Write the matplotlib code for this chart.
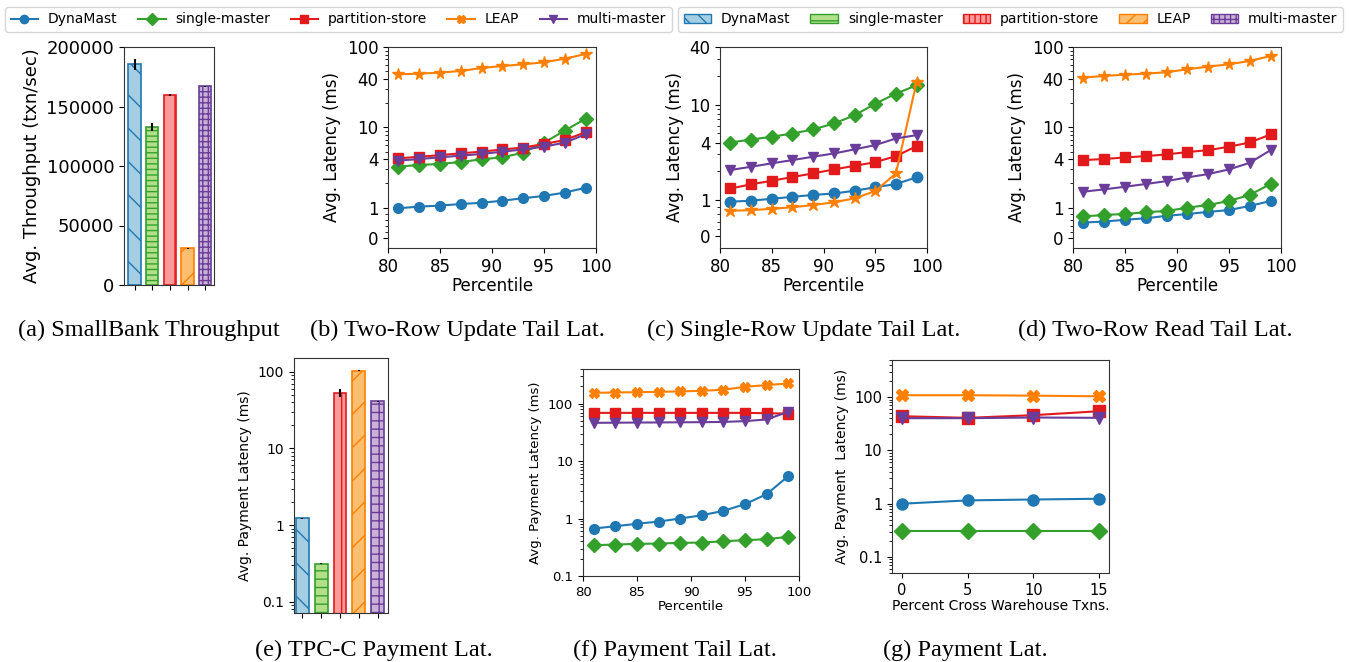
import numpy as np
import matplotlib.pyplot as plt
from matplotlib.patches import Patch
from matplotlib.lines import Line2D
from matplotlib.ticker import FixedLocator, NullFormatter

systems = ['DynaMast', 'single-master', 'partition-store', 'LEAP', 'multi-master']
line_colors = ['#1f78b4', '#33a02c', '#e31a1c', '#ff7f00', '#6a3d9a']
face_colors = ['#a6cee3', '#b2df8a', '#fb9a99', '#fdbf6f', '#cab2d6']
markers_top = ['o', 'D', 's', '*', 'v']
markers_bot = ['o', 'D', 's', 'X', 'v']

# (a) SmallBank throughput
tput = [185400, 132700, 159900, 30900, 166900]
tput_err = [4800, 3500, 800, 300, 500]

# tail latency percentiles
pct = [81, 83, 85, 87, 89, 91, 93, 95, 97, 99]

# (b) two-row update tail latency (ms)
two_upd = {
    'DynaMast':        [0.98, 1.03, 1.06, 1.11, 1.15, 1.22, 1.31, 1.40, 1.54, 1.77],
    'single-master':   [3.24, 3.4, 3.5, 3.7, 4.0, 4.23, 4.84, 6.44, 9.1, 12.8],
    'partition-store': [4.11, 4.3, 4.5, 4.75, 4.98, 5.3, 5.6, 6.2, 6.95, 8.7],
    'LEAP':            [45.7, 46.6, 48, 50.3, 54.8, 58, 60.9, 64.4, 71.6, 81.8],
    'multi-master':    [3.85, 4.03, 4.23, 4.44, 4.66, 4.98, 5.3, 5.75, 6.44, 8.2],
}

# (c) single-row update tail latency (ms)
one_upd = {
    'DynaMast':        [0.955, 0.98, 1.03, 1.08, 1.13, 1.17, 1.25, 1.36, 1.47, 1.73],
    'single-master':   [4.0, 4.3, 4.59, 4.97, 5.48, 6.33, 7.7, 10.2, 13.0, 15.9],
    'partition-store': [1.32, 1.46, 1.59, 1.74, 1.90, 2.09, 2.28, 2.49, 2.88, 3.67],
    'LEAP':            [0.70, 0.72, 0.755, 0.80, 0.86, 0.936, 1.04, 1.24, 1.9, 17.3],
    'multi-master':    [2.06, 2.23, 2.42, 2.62, 2.84, 3.07, 3.39, 3.76, 4.41, 4.78],
}

# (d) two-row read tail latency (ms)
two_read = {
    'DynaMast':        [0.51, 0.54, 0.6, 0.65, 0.73, 0.79, 0.86, 0.92, 1.05, 1.21],
    'single-master':   [0.71, 0.76, 0.79, 0.85, 0.89, 1.0, 1.08, 1.21, 1.44, 1.97],
    'partition-store': [3.91, 4.03, 4.22, 4.38, 4.6, 4.92, 5.2, 5.73, 6.48, 8.15],
    'LEAP':            [41.6, 43.6, 45.3, 46.6, 48.5, 52.8, 57, 60.9, 67, 77.3],
    'multi-master':    [1.58, 1.69, 1.82, 1.97, 2.14, 2.38, 2.62, 2.99, 3.62, 5.2],
}

# (e) TPC-C payment latency (ms)
pay_lat = [1.22, 0.313, 53, 104, 41.2]
pay_err = [0.02, 0.005, 6, 1, 0.5]

# (f) payment tail latency (ms)
pay_tail = {
    'DynaMast':        [0.67, 0.735, 0.81, 0.886, 1.0, 1.14, 1.36, 1.78, 2.65, 5.46],
    'single-master':   [0.343, 0.353, 0.362, 0.367, 0.377, 0.382, 0.403, 0.42, 0.437, 0.48],
    'partition-store': [69, 69, 69, 69, 69, 69, 69, 69, 68, 67],
    'LEAP':            [154, 156, 158, 160, 163, 167, 174, 196, 210, 224],
    'multi-master':    [46.3, 46.5, 46.8, 47, 47.3, 47.5, 48, 49.5, 53, 72],
}

# (g) payment latency vs cross-warehouse %
cross = [0, 5, 10, 15]
pay_cross = {
    'DynaMast':        [1.0, 1.155, 1.2, 1.24],
    'single-master':   [0.303, 0.303, 0.303, 0.303],
    'partition-store': [44, 41, 46, 54.6],
    'LEAP':            [109, 109, 107, 104],
    'multi-master':    [40.4, 40.4, 41.6, 41],
}

W, H = 1349, 662
fig = plt.figure(figsize=(W / 100, H / 100), dpi=100)


def box(l, r, t, b):
    return [l / W, 1 - b / H, (r - l) / W, (b - t) / H]


def style(ax):
    for s in ax.spines.values():
        s.set_color('#333333')


hatch_a = ['\\', '---', '|', '/', '+++']
hatch_e = ['\\', '--', '|', '/', '++']

# (a)
ax = fig.add_axes(box(124, 214, 47, 285))
x = np.arange(len(systems))
for i in range(len(systems)):
    ax.bar(x[i], tput[i], 0.7, yerr=tput_err[i], color=face_colors[i],
           edgecolor=line_colors[i], hatch=hatch_a[i], linewidth=1.2,
           error_kw=dict(ecolor='black', elinewidth=1.5))
ax.set_xlim(-0.6, 4.5)
ax.set_ylim(0, 200000)
ax.set_xticks(x)
ax.set_xticklabels([])
ax.set_yticks([0, 50000, 100000, 150000, 200000])
ax.tick_params(labelsize=13)
ax.set_ylabel('Avg. Throughput (txn/sec)', fontsize=13)
style(ax)


def tail_panel(pos, data, top, ms):
    ax = fig.add_axes(pos)
    for i, s in enumerate(systems):
        ax.plot(pct, data[s], color=line_colors[i], marker=markers_top[i],
                markersize=ms + (1.5 if markers_top[i] == '*' else 0), linewidth=1.5)
    ax.set_yscale('symlog', linthresh=1, linscale=0.34)
    ax.set_xlim(80, 100)
    ax.set_ylim(-0.33, top)
    ax.set_xticks([80, 85, 90, 95, 100])
    ticks = [0, 1, 4, 10, 40, 100] if top >= 100 else [0, 1, 4, 10, 40]
    ax.set_yticks(ticks)
    ax.set_yticklabels([str(t) for t in ticks])
    minor = [0.2, 0.4, 0.6, 0.8] + list(range(2, 10)) + list(range(20, 100, 10))
    ax.yaxis.set_minor_locator(FixedLocator([m for m in minor if m < top]))
    ax.yaxis.set_minor_formatter(NullFormatter())
    ax.tick_params(labelsize=12)
    ax.set_xlabel('Percentile', fontsize=12, labelpad=1)
    ax.set_ylabel('Avg. Latency (ms)', fontsize=12)
    style(ax)
    return ax


tail_panel(box(388, 596, 47, 248), two_upd, 100, 7)
tail_panel(box(720, 927, 47, 248), one_upd, 40, 7.5)
tail_panel(box(1073, 1281, 47, 248), two_read, 100, 7)

# (e)
ax = fig.add_axes(box(294, 388, 358, 613))
for i in range(len(systems)):
    ax.bar(x[i], pay_lat[i], 0.68, yerr=pay_err[i], color=face_colors[i],
           edgecolor=line_colors[i], hatch=hatch_e[i], linewidth=1.2,
           error_kw=dict(ecolor='black', elinewidth=1.5))
ax.set_yscale('log')
ax.set_xlim(-0.45, 4.55)
ax.set_ylim(0.071, 152)
ax.set_xticks(x)
ax.set_xticklabels([])
ax.set_yticks([0.1, 1, 10, 100], labels=['0.1', '1', '10', '100'])
ax.tick_params(labelsize=10)
ax.set_ylabel('Avg. Payment Latency (ms)', fontsize=10)
style(ax)

# (f)
ax = fig.add_axes(box(583, 799, 369, 576))
for i, s in enumerate(systems):
    ax.plot(pct, pay_tail[s], color=line_colors[i], marker=markers_bot[i],
            markersize=7, linewidth=1.5)
ax.set_yscale('log')
ax.set_xlim(80, 100)
ax.set_ylim(0.1, 400)
ax.set_xticks([80, 85, 90, 95, 100])
ax.set_yticks([0.1, 1, 10, 100], labels=['0.1', '1', '10', '100'])
ax.tick_params(labelsize=9.5)
ax.set_xlabel('Percentile', fontsize=9.5, labelpad=1)
ax.set_ylabel('Avg. Payment Latency (ms)', fontsize=9.5)
style(ax)

# (g)
ax = fig.add_axes(box(892, 1109, 360, 573))
for i, s in enumerate(systems):
    ax.plot(cross, pay_cross[s], color=line_colors[i], marker=markers_bot[i],
            markersize=8, linewidth=1.5)
ax.set_yscale('log')
ax.set_xlim(-0.75, 15.75)
ax.set_ylim(0.05, 500)
ax.set_xticks([0, 5, 10, 15])
ax.set_yticks([0.1, 1, 10, 100], labels=['0.1', '1', '10', '100'])
ax.tick_params(labelsize=10.5)
ax.set_xlabel('Percent Cross Warehouse Txns.', fontsize=10, labelpad=1)
ax.set_ylabel('Avg. Payment  Latency (ms)', fontsize=10)
style(ax)

# legends
line_handles = [Line2D([], [], color=line_colors[i], marker=markers_bot[i], markersize=6,
                       linewidth=1.5, label=systems[i]) for i in range(len(systems))]
patch_handles = [Patch(facecolor=face_colors[i], edgecolor=line_colors[i],
                       hatch=['\\\\', '--', '|||', '//', '+++'][i], label=systems[i])
                 for i in range(len(systems))]
leg_kw = dict(loc='lower left', ncol=5, mode='expand', fontsize=10, borderaxespad=0,
              handlelength=2, handletextpad=0.7)
fig.legend(handles=line_handles, bbox_to_anchor=(5 / W, 1 - 32 / H, 667 / W, 30 / H), **leg_kw)
fig.legend(handles=patch_handles, bbox_to_anchor=(678 / W, 1 - 32 / H, 665 / W, 30 / H), **leg_kw)

# captions
cap = dict(family='Liberation Serif', fontsize=17.5, ha='center', va='center')
fig.text(149 / W, 1 - 330 / H, '(a) SmallBank Throughput', **cap)
fig.text(457 / W, 1 - 330 / H, '(b) Two-Row Update Tail Lat.', **cap)
fig.text(804 / W, 1 - 330 / H, '(c) Single-Row Update Tail Lat.', **cap)
fig.text(1155 / W, 1 - 330 / H, '(d) Two-Row Read Tail Lat.', **cap)
fig.text(374 / W, 1 - 650 / H, '(e) TPC-C Payment Lat.', **cap)
fig.text(675 / W, 1 - 650 / H, '(f) Payment Tail Lat.', **cap)
fig.text(965 / W, 1 - 650 / H, '(g) Payment Lat.', **cap)

fig.savefig('out.png', dpi=100)
